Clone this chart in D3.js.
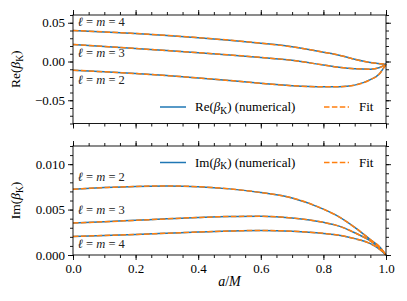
<!doctype html>
<html>
<head>
	<meta charset="utf-8">
	<script src="https://cdn.jsdelivr.net/npm/d3@7"></script>
	<style>
		body { margin: 0; background: #fff; }
		svg text { font-family: "Liberation Serif", "Times New Roman", "DejaVu Serif", serif !important; fill: #000; }
	</style>
</head>
<body>
<script>
// spin a/M on the horizontal axis
var spin = [0, 0.1, 0.2, 0.3, 0.4, 0.5, 0.6, 0.7, 0.8, 0.85, 0.9, 0.95, 0.98, 1.0]

// Re(beta_K) for l = m = 2, 3, 4
var reL2 = [-0.0112, -0.0133, -0.0156, -0.0182, -0.0212, -0.0245, -0.0282, -0.0312, -0.0326, -0.0325, -0.0305, -0.0235, -0.0155, -0.0035]
var reL3 = [0.0220, 0.0194, 0.0168, 0.0141, 0.0114, 0.0085, 0.0053, 0.0015, -0.0045, -0.0075, -0.0094, -0.0099, -0.0078, -0.0035]
var reL4 = [0.0400, 0.0382, 0.0361, 0.0336, 0.0308, 0.0275, 0.0236, 0.0190, 0.0120, 0.0082, 0.0028, -0.0014, -0.0028, -0.0035]

// Im(beta_K) for l = m = 2, 3, 4
var imL2 = [0.00725, 0.00742, 0.00755, 0.00760, 0.00752, 0.00728, 0.00688, 0.00628, 0.00505, 0.00420, 0.00305, 0.00170, 0.00088, 0]
var imL3 = [0.00352, 0.00366, 0.00382, 0.00398, 0.00413, 0.00424, 0.00426, 0.00408, 0.00360, 0.00318, 0.00245, 0.00155, 0.00076, 0]
var imL4 = [0.00205, 0.00215, 0.00226, 0.00239, 0.00253, 0.00264, 0.00270, 0.00262, 0.00238, 0.00218, 0.00180, 0.00125, 0.00062, 0]

var modeLabels = ["2", "3", "4"]
var xTicks = [0, 0.2, 0.4, 0.6, 0.8, 1.0]
var reTicks = [-0.05, 0, 0.05]
var imTicks = [0, 0.005, 0.010]

var width = 407
var height = 301
var left = 73, right = 386
var blue = "#1f77b4", orange = "#ff7f0e"

var svg = d3.select("body").append("svg")
	.attr("width", width)
	.attr("height", height)

var x = d3.scaleLinear().domain([0, 1]).range([left, right])

function drawPanel(p) {
	var y = d3.scaleLinear().domain(p.domain).range([p.bottom, p.top])
	var g = svg.append("g")

	// minor ticks on all four sides
	var sides = [
		[d3.axisLeft(y), "translate(" + left + ",0)", p.minorY],
		[d3.axisRight(y), "translate(" + right + ",0)", p.minorY],
		[d3.axisBottom(x), "translate(0," + p.bottom + ")", d3.range(0, 1.0001, 0.05)],
		[d3.axisTop(x), "translate(0," + p.top + ")", d3.range(0, 1.0001, 0.05)]
	]
	sides.forEach(function(s) {
		g.append("g").attr("transform", s[1])
			.call(s[0].tickValues(s[2]).tickSize(3).tickFormat(""))
	})
	// major ticks
	g.append("g").attr("transform", "translate(" + left + ",0)")
		.call(d3.axisLeft(y).tickValues(p.ticks).tickSize(5).tickPadding(3).tickFormat(d3.format(p.fmt)))
	g.append("g").attr("transform", "translate(" + right + ",0)")
		.call(d3.axisRight(y).tickValues(p.ticks).tickSize(5).tickFormat(""))
	g.append("g").attr("transform", "translate(0," + p.bottom + ")")
		.call(d3.axisBottom(x).tickValues(xTicks).tickSize(5).tickPadding(4)
			.tickFormat(p.xLabels ? d3.format(".1f") : ""))
	g.append("g").attr("transform", "translate(0," + p.top + ")")
		.call(d3.axisTop(x).tickValues(xTicks).tickSize(5).tickFormat(""))

	g.selectAll(".domain").remove()
	g.selectAll("g").attr("font-family", null)
	g.selectAll(".tick line").attr("stroke", "#000").attr("stroke-width", 0.9)
	g.selectAll(".tick text").attr("font-size", "13px").attr("fill", "#000")

	// curves: numerical (blue) then fit (orange dashed)
	var line = d3.line()
		.x(function(d) { return x(d[0]) })
		.y(function(d) { return y(d[1]) })
		.curve(d3.curveMonotoneX)
	p.series.forEach(function(s) {
		g.append("path").datum(d3.zip(spin, s))
			.attr("d", line).attr("fill", "none")
			.attr("stroke", blue).attr("stroke-width", 1.5)
	})
	p.series.forEach(function(s) {
		g.append("path").datum(d3.zip(spin, s))
			.attr("d", line).attr("fill", "none")
			.attr("stroke", orange).attr("stroke-width", 1.5)
			.attr("stroke-dasharray", "5.5,2.4")
	})

	// frame
	g.append("rect")
		.attr("x", left).attr("y", p.top)
		.attr("width", right - left).attr("height", p.bottom - p.top)
		.attr("fill", "none").attr("stroke", "#000").attr("stroke-width", 0.9)

	// mode labels
	p.labelY.forEach(function(v, i) {
		var t = g.append("text").attr("x", x(0.015)).attr("y", y(v))
			.attr("font-size", "12.5px").style("fill", "#222")
		t.append("tspan").attr("font-style", "italic").text("ℓ")
		t.append("tspan").text(" = ")
		t.append("tspan").attr("font-style", "italic").text("m")
		t.append("tspan").text(" = " + modeLabels[i])
	})

	// y label
	var yl = g.append("text")
		.attr("transform", "translate(20," + ((p.top + p.bottom) / 2) + ") rotate(-90)")
		.attr("text-anchor", "middle").attr("font-size", "13.5px")
	yl.append("tspan").text(p.name + "(")
	yl.append("tspan").attr("font-style", "italic").text("β")
	yl.append("tspan").attr("font-size", "9.5px").attr("dy", 2.5).text("K")
	yl.append("tspan").attr("dy", -2.5).text(")")

	// legend
	var ly = p.legendY
	g.append("line").attr("x1", 160).attr("x2", 186).attr("y1", ly).attr("y2", ly)
		.attr("stroke", blue).attr("stroke-width", 1.5)
	var lt = g.append("text").attr("x", 195).attr("y", ly + 4).attr("font-size", "13px")
	lt.append("tspan").text(p.name + "(")
	lt.append("tspan").attr("font-style", "italic").text("β")
	lt.append("tspan").attr("font-size", "9.5px").attr("dy", 2.5).text("K")
	lt.append("tspan").attr("dy", -2.5).text(") (numerical)")
	g.append("line").attr("x1", 324).attr("x2", 349).attr("y1", ly).attr("y2", ly)
		.attr("stroke", orange).attr("stroke-width", 1.5).attr("stroke-dasharray", "5.5,2.4")
	g.append("text").attr("x", 359).attr("y", ly + 4).attr("font-size", "13px").text("Fit")
}

drawPanel({
	name: "Re", domain: [-0.08, 0.06], top: 15, bottom: 123.5,
	ticks: reTicks, minorY: d3.range(-0.08, 0.0601, 0.01), fmt: ".2f",
	series: [reL2, reL3, reL4], labelY: [-0.0293, 0.0052, 0.0456],
	legendY: 107, xLabels: false
})

drawPanel({
	name: "Im", domain: [0, 0.012], top: 146, bottom: 255,
	ticks: imTicks, minorY: d3.range(0, 0.01201, 0.001), fmt: ".3f",
	series: [imL2, imL3, imL4], labelY: [0.00817, 0.00454, 0.0008],
	legendY: 162.5, xLabels: true
})

// x label
var xl = svg.append("text").attr("x", (left + right) / 2).attr("y", 286)
	.attr("text-anchor", "middle").attr("font-size", "14px")
xl.append("tspan").attr("font-style", "italic").text("a")
xl.append("tspan").text("/")
xl.append("tspan").attr("font-style", "italic").text("M")
</script>
</body>
</html>
